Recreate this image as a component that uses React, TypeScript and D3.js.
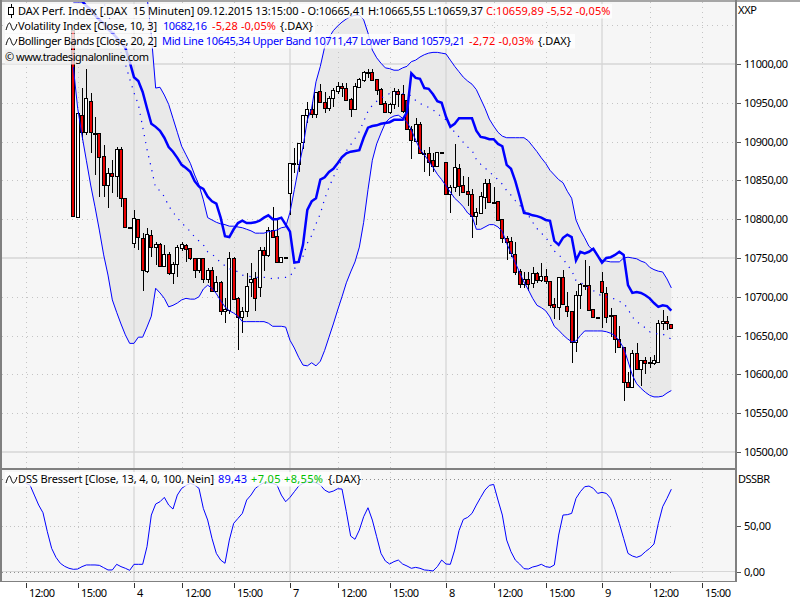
import React from "react";
import * as d3 from "d3";

// ---- Data (bar 0 is the first candle) ----
const opens = [11044,10803,10934,10912,10952,10911,10911,10881,10844,10859,10856,10890,10827,10790,10769,10800,10776,10733,10780,10764,10768,10740,10755,10731,10742,10763,10767,10763,10750,10734,10750,10723,10734,10707,10719,10682,10683,10750,10698,10674,10682,10719,10724,10713,10760,10754,10786,10778,10745,10751,10834,10871,10871,10899,10934,10942,10936,10965,10951,10943,10956,10965,10972,10969,10955,10942,10970,10979,10990,10990,10981,10968,10950,10938,10948,10965,10961,10954,10916,10901,10923,10885,10885,10876,10869,10887,10874,10832,10841,10866,10844,10836,10832,10804,10808,10829,10847,10822,10823,10800,10776,10772,10755,10733,10716,10723,10718,10731,10722,10727,10720,10691,10687,10725,10688,10682,10642,10702,10715,10715,10684,10674,10720,10705,10677,10677,10646,10635,10590,10584,10628,10607,10619,10616,10615,10616,10666,10669,10665.41];
const highs = [11044,10938,10969,10994,10963,10932,10911,10896,10866,10876,10893,10893,10827,10790.5,10812,10800,10782,10789,10786,10771,10769,10767,10758,10745,10767,10771,10768,10763,10750,10750,10750,10737,10738,10727,10720,10699,10758,10751,10700,10687,10731,10744,10732,10764,10764,10790,10816,10802,10751,10751,10872,10892,10898,10934,10951,10951,10964,10974,10964,10959,10969,10977,10976,10976,10956,10976,10982,10991,10994,10994,10981,10969,10952,10950,10969,10968,10973,10954,10920,10930,10925,10889,10893,10885,10887,10887,10874,10844,10897,10871,10856,10854,10839,10814,10835,10852,10852,10842,10824,10800,10778,10777,10771,10736,10732,10732,10738,10732,10744,10736,10720,10699,10726,10735,10706,10682,10708,10718,10747,10740,10684,10674,10732,10713,10686,10677,10662,10635,10603,10632,10641,10619,10622,10622,10625,10670,10683,10675,10665.55];
const lows = [10804,10802,10902,10908,10885,10857,10829,10829,10814,10834,10829,10816,10790,10790,10763,10760,10708,10731,10751,10741,10738,10740,10728,10717,10726,10759,10745,10747,10724,10731,10718,10718,10707,10706,10677,10666,10678,10697,10632,10653,10674,10700,10682,10700,10733,10751,10776,10745,10745,10751,10805,10860,10861,10890,10924,10930,10930,10951,10937,10940,10945,10961,10958,10954,10932,10942,10969,10977,10982,10979,10960,10948,10937,10936,10942,10945,10937,10916,10878,10900,10884,10861,10856,10861,10869,10886,10831,10808,10835,10830,10835,10817,10776,10792,10808,10813,10822,10821,10798,10769,10747,10751,10728,10711,10711,10708,10711,10718,10719,10716,10686,10671,10670,10691,10674,10615,10629,10684,10709,10683,10674,10673,10660,10666,10648,10628,10635,10566,10582,10584,10607,10585,10600,10608,10612,10616,10657,10657,10659.37];
const closes = [10804,10937,10912,10956,10912,10911,10880,10844,10859,10856,10890,10827,10790,10790.5,10802,10777,10735,10781,10764,10768,10740,10755,10731,10742,10764,10768,10762,10750,10734,10750,10723,10734,10707,10719,10682,10684,10750,10697,10674,10682,10714,10723,10698,10760,10754,10786,10777,10745,10751,10751,10872,10872,10898,10934,10942,10936,10964,10951,10943,10956,10966,10972,10969,10954,10942,10972,10981,10990,10990,10979,10966,10948,10938,10948,10965,10961,10940,10916,10902,10923,10885,10885,10874,10869,10887,10886,10832,10841,10867,10843,10835,10832,10804,10809,10830,10847,10822,10822,10799,10776,10771,10756,10732,10716,10723,10716,10731,10722,10727,10720,10689,10687,10726,10691,10682,10642,10702,10716,10714,10683,10674,10673.6,10706,10674,10676,10646,10635,10590,10584,10628,10607,10619,10615,10615.5,10619,10666,10669,10666,10659.89];
const volatilityIndex = [11081,11081,11081,11075,11070,11063,11057,11052,11045,11040,11034,11027,11021,11003,10983,10978,10964,10943,10923,10919,10914,10905,10893,10887,10879,10870,10866,10861,10849,10842,10839,10829,10823,10820,10802,10778,10777,10787,10795,10798,10795,10795,10796,10798,10802,10805,10800,10800,10802,10793,10784,10744,10745,10767,10812,10823,10827,10851,10854,10861,10865,10872,10880,10885,10887,10888,10889,10905,10918,10920,10921,10923,10924,10925,10928,10928,10928,10938,10988,10982,10981,10969,10968,10961,10952,10950,10932,10919,10923,10930,10930,10930,10930,10914,10906,10905,10903,10903,10897,10894,10870,10865,10849,10829,10808,10807,10805,10804,10802,10799,10798,10772,10767,10776,10780,10777,10747,10758,10756,10758,10762,10753,10744,10750,10751,10754,10758,10754,10715,10705,10706,10705,10702,10698,10692,10687,10689,10688,10682.16];
const upperBand = [11290,11280,11270,11262,11252,11243,11233,11222,11210,11198,11185,11172,11160,11148,11135,11120,11105,11088,11037,10969,10970,10960,10948,10930,10912,10894,10883,10872,10857,10844,10825,10802,10799,10796,10794,10793,10791,10791,10790,10789,10787,10785,10782,10782,10782,10784,10785,10786,10789,10790,10809,10838,10867,10893,10928,10943,10977,10997,11022,11034,11043,11049,11054,11058,11061,11063,11063,11057,11040,11018,11008,11001,10995,10994,10992,10992,10995,10997,11003,11005,11009,11012,11014,11015,11015,11014,11013,11005,10997,10990,10983,10978,10974,10967,10955,10943,10929,10920,10912,10907,10905,10905,10905,10905,10905,10901,10894,10887,10879,10872,10863,10857,10851,10847,10836,10827,10799,10786,10776,10765,10760,10753,10747,10746,10745,10745,10745,10750,10751,10750,10749,10746,10744,10738,10735,10733,10732,10723,10711.47];
const lowerBand = [10996,10943,10908,10876,10844,10816,10786,10754,10728,10696,10680,10665,10651,10640,10640,10648,10648,10661,10675,10711,10705,10698,10687,10689,10692,10696,10698,10697,10697,10700,10710,10715,10711,10704,10695,10687,10682,10679,10675,10668,10668,10668,10668,10668,10668,10666,10662,10662,10662,10661,10644,10634,10622,10612,10611,10615,10611,10617,10631,10648,10665,10683,10700,10718,10732,10745,10764,10796,10838,10876,10897,10911,10924,10930,10933,10934,10930,10925,10915,10902,10890,10883,10875,10867,10858,10851,10843,10835,10827,10822,10816,10808,10804,10787,10787,10790,10793,10793,10790,10784,10769,10756,10744,10731,10719,10709,10698,10689,10686,10682,10674,10662,10657,10651,10646,10642,10643,10650,10656,10656,10656,10656,10656,10655,10653,10650,10643,10634,10617,10599,10588,10582,10577,10573,10571,10571,10572,10576,10579.21];
const midLine = [11150,11140,11130,11120,11110,11100,11090,11080,11065,11048,11030,11015,11000,10981,10963,10948,10919,10890,10866,10840,10837,10829,10817,10809,10802,10795,10790,10784,10777,10772,10767,10758,10755,10750,10744,10740,10736,10735,10732,10728,10727,10726,10725,10725,10725,10725,10723,10724,10725,10725,10726,10736,10744,10752,10769,10779,10794,10807,10826,10841,10854,10866,10877,10888,10896,10904,10913,10926,10939,10947,10952,10956,10959,10962,10962,10963,10962,10961,10959,10953,10949,10947,10944,10941,10936,10932,10928,10920,10912,10906,10899,10893,10889,10877,10871,10866,10861,10856,10851,10845,10837,10831,10824,10818,10812,10805,10796,10788,10782,10777,10768,10759,10754,10749,10741,10734,10721,10718,10716,10710,10708,10704,10701,10700,10699,10697,10694,10692,10684,10674,10668,10664,10660,10655,10653,10652,10652,10649,10645.34];
// DSS begins 11 bars before the first candle
const dssFirstBar = -11;
const dssValues = [95.7,93.9,83.1,72.3,64,43.5,25.5,15.8,9.4,6.1,4,2.9,3.2,5.8,7.6,7.6,7.6,7.2,4.7,2.2,2.2,8.3,5.8,4,1.8,8.3,8.3,8.3,27.3,61.5,73.4,75.9,80.6,72.3,68,83.1,90.3,93.5,95.7,93.9,90.3,68.7,56.1,36.3,20.1,12.9,9.4,34.5,52.5,57.9,63.3,77.7,83.1,90.3,93.9,96.4,96.4,95.7,93.9,83.1,75.9,80.6,86.7,92.8,95.7,97.5,97.5,96.4,93.9,88.5,86,87.4,89.9,89.6,65.1,38.8,35.3,45.3,59.7,69.4,56.1,38.1,20.1,11.9,8.6,11.2,12.9,8.6,6.5,4,5,4,2.2,1.8,1.1,5.8,12.9,8.6,8.3,23.7,44.6,56.8,59,63.3,72.3,80.6,88.5,93.5,94.6,77.7,61.5,34.5,21.9,12.9,8.6,3.6,3.2,5.4,6.5,8.3,5.8,5,7.6,39.9,61.5,61.9,63.3,79.5,86.7,92.1,92.8,90.3,84.9,86,84.9,79.5,67.6,52.5,36.3,20.1,17.3,15.8,17.6,21.9,25.5,30.2,52.5,70.5,79.5,89.43];

const priceTicks = [11000,10950,10900,10850,10800,10750,10700,10650,10600,10550,10500];
const priceGridExtra = [11050];
const priceSolidTicks = [11000,10750,10500];
const dssTicks = [50,0];
const dssDotted = [100,50,0];
const timeTickBars = [-11,1,14,25,37,50,61,73,86,97,109,122,133,145];
const timeTickLabels = ["12:00","15:00","4","12:00","15:00","7","12:00","15:00","8","12:00","15:00","9","12:00","15:00"];
const dayBreakLabels = ["4","7","8","9"];

const FONT = "'Noto Sans', sans-serif";
const BLUE = "#0000ff";
const RED = "#ff0000";
const GREEN = "#00c000";

const W = 800, H = 600;
const plot = { left: 2, right: 735, top: 2, mainBottom: 467, dssTop: 470, bottom: 581 };

const x = d3.scaleLinear().domain([0, 138]).range([73.33, 671.33]);
const yPrice = d3.scaleLinear().domain([10500, 11000]).range([452, 64]);
const yDss = d3.scaleLinear().domain([0, 100]).range([572, 479.4]);
const cx = (i: number) => Math.round(x(i));
const bars = d3.range(opens.length);

const priceLine = (s: number[]) =>
  d3.line<number>().x((_, i) => x(i)).y((v) => yPrice(v))(s) as string;
const bandArea = d3.area<number>()
  .x((i) => x(i))
  .y0((i) => yPrice(lowerBand[i]))
  .y1((i) => yPrice(upperBand[i]))(bars) as string;
const dssLine = d3.line<number>()
  .x((_, j) => x(j + dssFirstBar))
  .y((v) => yDss(v))(dssValues) as string;

type Seg = { t: string; x: number; w: number; c: string };
const legendRows: { y: number; bgW: number; glyph: string; segs: Seg[]; bg: string }[] = [
  { y: 11, bgW: 607, glyph: "candle", bg: "#ffffff", segs: [
    { t: "DAX Perf. Index [.DAX  15 Minuten] 09.12.2015 13:15:00 - O:10665,41 H:10665,55 L:10659,37", x: 18, w: 465, c: "#000" },
    { t: "C:10659,89 -5,52 -0,05%", x: 486, w: 124.5, c: RED },
  ]},
  { y: 26, bgW: 310, glyph: "wave", bg: "#ffffff", segs: [
    { t: "Volatility Index [Close, 10, 3]", x: 18, w: 139, c: "#000" },
    { t: "10682,16", x: 163, w: 44, c: BLUE },
    { t: "-5,28 -0,05%", x: 212, w: 64, c: RED },
    { t: "{.DAX}", x: 280, w: 33, c: "#000" },
  ]},
  { y: 41, bgW: 570, glyph: "wave", bg: "#ffffff", segs: [
    { t: "Bollinger Bands [Close, 20, 2]", x: 18, w: 139, c: "#000" },
    { t: "Mid Line 10645,34 Upper Band 10711,47 Lower Band 10579,21", x: 162, w: 303, c: BLUE },
    { t: "-2,72 -0,03%", x: 469, w: 65, c: RED },
    { t: "{.DAX}", x: 538, w: 33, c: "#000" },
  ]},
  { y: 57, bgW: 145, glyph: "none", bg: "#f0f0f0", segs: [
    { t: "© www.tradesignalonline.com", x: 5, w: 144, c: "#000" },
  ]},
  { y: 479, bgW: 356, glyph: "wave", bg: "#ffffff", segs: [
    { t: "DSS Bressert [Close, 13, 4, 0, 100, Nein]", x: 18, w: 196, c: "#000" },
    { t: "89,43", x: 218, w: 29, c: BLUE },
    { t: "+7,05 +8,55%", x: 251, w: 72, c: GREEN },
    { t: "{.DAX}", x: 328, w: 33, c: "#000" },
  ]},
];

function Glyph({ kind, y }: { kind: string; y: number }) {
  if (kind === "candle")
    return (
      <g stroke="#000" fill="#fff" shapeRendering="crispEdges">
        <line x1={11} x2={11} y1={y - 7} y2={y + 7} />
        <rect x={8.5} y={y - 3.5} width={5} height={7} />
      </g>
    );
  if (kind === "wave")
    return (
      <path
        d={`M6 ${y + 4} C7.5 ${y - 1} 8.5 ${y - 3} 9.5 ${y - 3} C11 ${y - 3} 11.5 ${y + 4} 13.5 ${y + 4} C15 ${y + 4} 16 ${y + 1} 17 ${y - 2}`}
        fill="none"
        stroke="#000"
      />
    );
  return null;
}

export default function App() {
  return (
    <svg
      width={W}
      height={H}
      viewBox={`0 0 ${W} ${H}`}
      style={{ position: "absolute", left: 0, top: 0, background: "#fff", fontFamily: FONT, fontSize: 11 }}
    >
      <defs>
        <clipPath id="mainClip">
          <rect x={plot.left} y={plot.top} width={plot.right - plot.left} height={plot.mainBottom - plot.top} />
        </clipPath>
        <clipPath id="dssClip">
          <rect x={plot.left} y={plot.dssTop} width={plot.right - plot.left} height={plot.bottom - plot.dssTop} />
        </clipPath>
      </defs>

      <rect x={plot.left} y={plot.top} width={plot.right - plot.left} height={plot.bottom - plot.top} fill="#f6f6f6" />

      {/* grid: main panel */}
      <g clipPath="url(#mainClip)">
        {[...priceTicks, ...priceGridExtra].map((t) =>
          priceSolidTicks.includes(t) ? null : (
            <line key={t} x1={plot.left} x2={plot.right} y1={Math.round(yPrice(t)) + 0.5} y2={Math.round(yPrice(t)) + 0.5}
              stroke="#c4c4c4" strokeDasharray="1 4" shapeRendering="crispEdges" />
          )
        )}
        {priceSolidTicks.map((t) => (
          <line key={t} x1={plot.left} x2={plot.right} y1={Math.round(yPrice(t))} y2={Math.round(yPrice(t))}
            stroke="#d6d6d6" strokeWidth={1.3} />
        ))}
        <path d={bandArea} fill="#e9e9e9" />
      </g>

      {/* grid: verticals through both panels */}
      {timeTickBars.map((b, k) => {
        const isDay = dayBreakLabels.includes(timeTickLabels[k]);
        const px = Math.round(x(b));
        return isDay ? (
          <line key={k} x1={px} x2={px} y1={plot.top} y2={plot.bottom} stroke="#d6d6d6" strokeWidth={1.3} />
        ) : (
          <line key={k} x1={px + 0.5} x2={px + 0.5} y1={plot.top} y2={plot.bottom}
            stroke="#c4c4c4" strokeDasharray="1 4" shapeRendering="crispEdges" />
        );
      })}

      {/* candles */}
      <g clipPath="url(#mainClip)" shapeRendering="crispEdges">
        {bars.map((i) => {
          const c = cx(i);
          const up = closes[i] >= opens[i];
          const top = Math.round(yPrice(Math.max(opens[i], closes[i])));
          const bot = Math.round(yPrice(Math.min(opens[i], closes[i])));
          return (
            <g key={i}>
              <line x1={c + 0.5} x2={c + 0.5} y1={yPrice(highs[i])} y2={yPrice(lows[i])} stroke="#000" />
              <rect x={c - 1.5} y={top + 0.5} width={3} height={Math.max(bot - top, 0.5)}
                fill={up ? "#fff" : "#e80000"} stroke="#000" />
            </g>
          );
        })}
      </g>

      {/* indicators */}
      <g clipPath="url(#mainClip)" fill="none" stroke={BLUE}>
        <path d={priceLine(upperBand)} strokeWidth={1} />
        <path d={priceLine(lowerBand)} strokeWidth={1} />
        <path d={priceLine(midLine)} strokeWidth={1.2} strokeDasharray="1.2 6" />
        <path d={priceLine(volatilityIndex)} strokeWidth={2.5} />
      </g>

      {/* DSS panel */}
      {dssDotted.map((t) => (
        <line key={t} x1={plot.left} x2={671} y1={Math.round(yDss(t)) + 0.5} y2={Math.round(yDss(t)) + 0.5}
          stroke="#909090" strokeDasharray="1 3" shapeRendering="crispEdges" opacity={t === 50 ? 0.5 : 1} />
      ))}
      <line x1={plot.left} x2={plot.right} y1={yDss(0) - 0.5} y2={yDss(0) - 0.5} stroke="#d6d6d6" strokeWidth={1.2} />
      <path d={dssLine} clipPath="url(#dssClip)" fill="none" stroke={BLUE} strokeWidth={1} />

      {/* frames */}
      <g fill="#808080" shapeRendering="crispEdges">
        <rect x={0} y={0} width={800} height={1.5} opacity={0.7} />
        <rect x={0} y={0} width={2} height={plot.bottom + 1} />
        <rect x={plot.right} y={0} width={1.5} height={plot.bottom + 1} />
        <rect x={0} y={467.5} width={plot.right} height={2} />
        <rect x={0} y={plot.bottom} width={plot.right + 1} height={1} />
      </g>

      {/* legends */}
      {legendRows.map((r) => (
        <g key={r.y}>
          <rect x={5} y={r.y - 7} width={r.bgW} height={14.5} fill={r.bg} opacity={0.8} />
          <Glyph kind={r.glyph} y={r.y} />
          {r.segs.map((s) => (
            <text key={s.x} x={s.x} y={r.y + 4} fill={s.c} textLength={s.w} lengthAdjust="spacing" xmlSpace="preserve">
              {s.t}
            </text>
          ))}
        </g>
      ))}

      {/* right axis */}
      <text x={738} y={14} fill="#000" textLength={19}>XXP</text>
      {priceTicks.map((t) => (
        <g key={t}>
          <line x1={737} x2={741} y1={Math.round(yPrice(t)) + 0.5} y2={Math.round(yPrice(t)) + 0.5} stroke="#555" />
          <text x={744} y={yPrice(t) + 4} fill="#000" textLength={44}>{d3.format(".2f")(t).replace(".", ",")}</text>
        </g>
      ))}
      <text x={738} y={483} fill="#000" textLength={32}>DSSBR</text>
      {dssTicks.map((t) => (
        <g key={t}>
          <line x1={737} x2={741} y1={Math.round(yDss(t)) + 0.5} y2={Math.round(yDss(t)) + 0.5} stroke="#555" />
          <text x={744} y={yDss(t) + 4} fill="#000" textLength={t === 0 ? 21 : 27}>{d3.format(".2f")(t).replace(".", ",")}</text>
        </g>
      ))}

      {/* time axis */}
      {timeTickBars.map((b, k) => {
        const px = Math.round(x(b));
        return (
          <g key={k}>
            <line x1={px + 0.5} x2={px + 0.5} y1={583} y2={588} stroke="#333" />
            <text x={px + 3} y={597} fill="#000" textLength={timeTickLabels[k].length > 1 ? 26 : 6}>{timeTickLabels[k]}</text>
          </g>
        );
      })}
    </svg>
  );
}
